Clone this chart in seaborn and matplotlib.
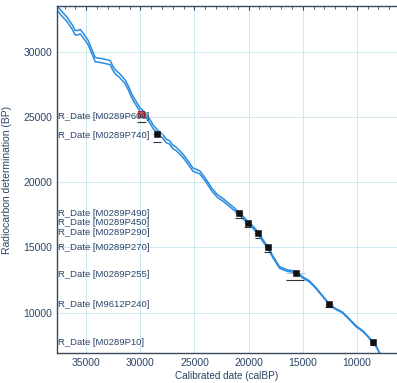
import numpy as np
import pandas as pd
import matplotlib
matplotlib.use("Agg")
import matplotlib.pyplot as plt
from matplotlib.ticker import MultipleLocator
import seaborn as sns

sns.set_style("white")
plt.rcParams['font.family'] = ['Liberation Sans', 'DejaVu Sans']

# Calibration curve (cal BP, 14C BP) and band half-width
curve_cal = [37700, 37300, 36800, 36300, 36010, 35800, 35550, 35200, 34820, 34500, 34170,
             33500, 32790, 32550, 32330, 31900, 31410, 31100, 30760, 30400, 30030, 29500,
             29100, 28830, 28400, 27910, 27600, 27300, 27000, 26700, 26340, 26000, 25600,
             25300, 25150, 24800, 24500, 24000, 23400, 22900, 22300, 21800, 21280, 20700,
             20080, 19600, 19160, 18700, 18240, 17700, 17140, 16700, 16300, 15900, 15570,
             15000, 14370, 13800, 13200, 12530, 12000, 11330, 10700, 10050, 9400, 8950,
             8570, 8200, 7930, 7700]
curve_c14 = [33350, 32950, 32500, 31900, 31450, 31450, 31530, 31150, 30690, 30050, 29390,
             29300, 29160, 28750, 28470, 28150, 27700, 27200, 26550, 26050, 25560, 25150,
             24650, 24260, 23850, 23490, 23150, 23050, 22700, 22550, 22270, 21950, 21500,
             21150, 20960, 20850, 20740, 20200, 19430, 18950, 18600, 18250, 17900, 17450,
             16910, 16550, 16140, 15550, 14990, 14200, 13460, 13300, 13200, 13150, 13080,
             12700, 12390, 11900, 11300, 10630, 10300, 10010, 9500, 8940, 8550, 8150,
             7790, 7400, 6950, 6650]
curve_sig = [170, 170, 170, 170, 170, 170, 170, 170, 165, 165, 160,
             160, 160, 155, 155, 150, 150, 150, 145, 145, 140, 140,
             140, 140, 135, 135, 135, 130, 130, 130, 130, 125, 125,
             120, 120, 120, 115, 110, 110, 105, 100, 100, 95, 90,
             90, 85, 80, 75, 70, 65, 60, 60, 55, 55, 50,
             45, 40, 35, 30, 30, 30, 30, 30, 30, 30, 30,
             30, 30, 30, 30]

# Radiocarbon dates
labels = ["R_Date [M0289P600]", "R_Date [M0289P740]", "R_Date [M0289P490]",
          "R_Date [M0289P450]", "R_Date [M0289P290]", "R_Date [M0289P270]",
          "R_Date [M0289P255]", "R_Date [M9612P240]", "R_Date [M0289P10]"]
label_y = [25050, 23600, 17600, 16900, 16150, 15000, 12950, 10650, 7700]
date_cal = [29900, 28430, 20920, 20090, 19170, 18250, 15650, 12580, 8530]
date_c14 = [25200, 23700, 17600, 16900, 16070, 15000, 13000, 10690, 7780]
date_err = [250, 250, 150, 150, 150, 150, 200, 120, 100]
cal_err = [500, 500, 400, 350, 300, 350, 900, 350, 250]
range_lo = [30300, 28800, 21300, 20400, 19400, 18600, 16500, 12900, 8700]
range_hi = [29500, 28100, 20500, 19800, 18900, 17900, 14900, 12200, 8300]

fig = plt.figure(figsize=(3.97, 3.83), dpi=100)
ax = fig.add_axes([0.1436, 0.0783, 0.856, 0.906])

blue = "#2b8be0"
txt = "#2a4466"
df_hi = pd.DataFrame({"cal": curve_cal, "c14": np.array(curve_c14) + np.array(curve_sig)})
df_lo = pd.DataFrame({"cal": curve_cal, "c14": np.array(curve_c14) - np.array(curve_sig)})
sns.lineplot(data=df_hi, x="cal", y="c14", sort=False, color=blue, lw=1.1, ax=ax)
sns.lineplot(data=df_lo, x="cal", y="c14", sort=False, color=blue, lw=1.1, ax=ax)

# error bars
ax.errorbar(date_cal, date_c14, xerr=cal_err, yerr=date_err, fmt="none",
            ecolor="#b8c4cc", elinewidth=0.8, capsize=0, zorder=3)
for lo, hi, y, e in zip(range_lo, range_hi, date_c14, date_err):
    ax.hlines(y - 2.5 * e, hi, lo, color="#333333", lw=0.8, zorder=4)
ax.scatter(date_cal[:1], date_c14[:1], marker="s", s=14, facecolors="#dd4444",
           edgecolors="#aa1111", linewidths=0.6, zorder=5)
ax.scatter(date_cal[1:], date_c14[1:], marker="s", s=14, c="#111111",
           edgecolors="#111111", linewidths=0.4, zorder=5)

for lab, y in zip(labels, label_y):
    ax.text(37600, y, lab, fontsize=6.8, color=txt, va="center", ha="left", zorder=6)

ax.set_xlim(37700, 6300)
ax.set_ylim(6900, 33500)
ax.xaxis.set_major_locator(MultipleLocator(5000))
ax.xaxis.set_minor_locator(MultipleLocator(1000))
ax.yaxis.set_major_locator(MultipleLocator(5000))
ax.grid(True, which="major", color="#cfe8f0", lw=0.7)
ax.tick_params(axis="both", which="both", direction="in", labelsize=7.5, colors=txt,
               top=True, length=3)
ax.tick_params(axis="x", which="minor", length=2)
for s in ax.spines.values():
    s.set_color("#3a4a5a")
    s.set_linewidth(1.0)
ax.spines["right"].set_visible(False)
ax.set_xlabel("Calibrated date (calBP)", fontsize=7.2, color=txt, labelpad=2)
ax.set_ylabel("Radiocarbon determination (BP)", fontsize=7.5, color=txt, labelpad=8)

fig.savefig("out.png", dpi=100)
